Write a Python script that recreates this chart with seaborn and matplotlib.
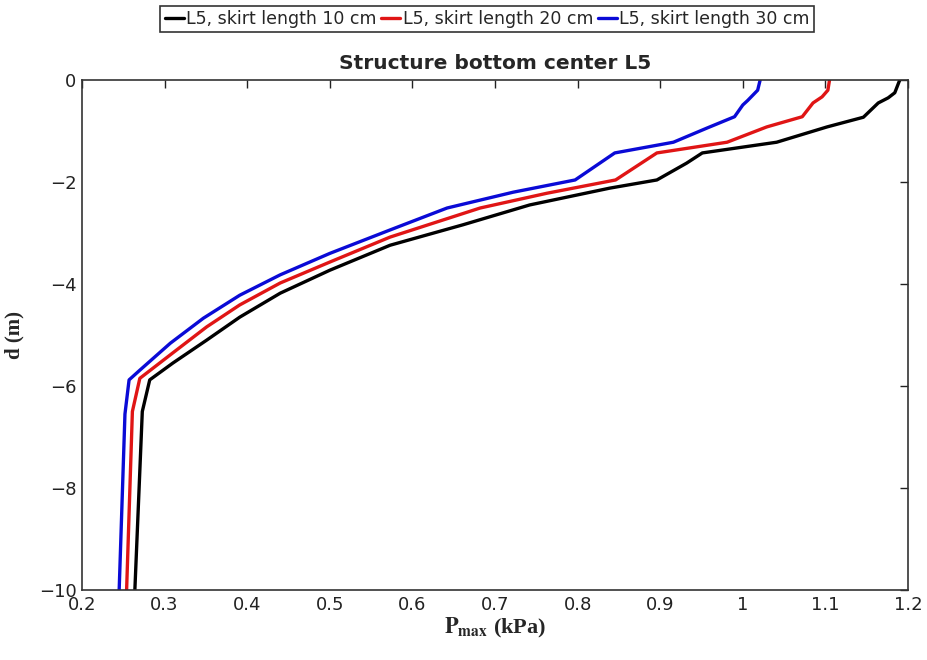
import matplotlib
matplotlib.use("Agg")
import matplotlib.pyplot as plt
import seaborn as sns
import pandas as pd

series_names = ["L5, skirt length 10 cm", "L5, skirt length 20 cm", "L5, skirt length 30 cm"]
colors = ["#000000", "#e01515", "#0a0ad6"]

d_10 = [0, -0.25, -0.35, -0.45, -0.73, -0.92, -1.22, -1.43, -1.63, -1.96, -2.12, -2.45,
        -2.84, -3.24, -3.73, -4.18, -4.65, -5.1, -5.55, -5.88, -6.5, -10]
p_10 = [1.19, 1.184, 1.176, 1.164, 1.146, 1.102, 1.041, 0.951, 0.932, 0.896, 0.839, 0.742,
        0.661, 0.573, 0.500, 0.440, 0.391, 0.351, 0.310, 0.282, 0.273, 0.264]

d_20 = [0, -0.2, -0.33, -0.45, -0.72, -0.92, -1.22, -1.43, -1.96, -2.22, -2.51, -3.08,
        -3.57, -3.98, -4.41, -4.84, -5.35, -5.85, -6.5, -10]
p_20 = [1.105, 1.103, 1.096, 1.085, 1.072, 1.029, 0.981, 0.896, 0.846, 0.763, 0.682, 0.573,
        0.500, 0.440, 0.391, 0.351, 0.310, 0.270, 0.261, 0.254]

d_30 = [0, -0.2, -0.4, -0.49, -0.72, -0.94, -1.22, -1.43, -1.96, -2.2, -2.51, -2.94,
        -3.4, -3.82, -4.22, -4.67, -5.16, -5.69, -5.88, -6.55, -10]
p_30 = [1.021, 1.018, 1.006, 1.0, 0.99, 0.957, 0.916, 0.845, 0.797, 0.722, 0.642, 0.573,
        0.500, 0.440, 0.391, 0.347, 0.307, 0.270, 0.257, 0.252, 0.245]

x_ticks = [0.2, 0.3, 0.4, 0.5, 0.6, 0.7, 0.8, 0.9, 1.0, 1.1, 1.2]
x_tick_labels = ["0.2", "0.3", "0.4", "0.5", "0.6", "0.7", "0.8", "0.9", "1", "1.1", "1.2"]
y_ticks = [0, -2, -4, -6, -8, -10]

frames = []
for name, d, p in zip(series_names, [d_10, d_20, d_30], [p_10, p_20, p_30]):
    frames.append(pd.DataFrame({"P": p, "d": d, "series": name}))
df = pd.concat(frames, ignore_index=True)

sns.set_theme(style="white")
plt.rcParams["font.family"] = ["DejaVu Sans"]
plt.rcParams["mathtext.fontset"] = "stix"

fig = plt.figure(figsize=(9.28, 6.6), dpi=100)
ax = fig.add_axes([82 / 928, 1 - 590 / 660, (908 - 82) / 928, (590 - 80) / 660])

sns.lineplot(data=df, x="P", y="d", hue="series", hue_order=series_names,
             palette=colors, sort=False, estimator=None, linewidth=2.4, ax=ax)

ax.set_xlim(0.2, 1.2)
ax.set_ylim(-10, 0)
ax.set_xticks(x_ticks)
ax.set_xticklabels(x_tick_labels)
ax.set_yticks(y_ticks)
ax.tick_params(direction="in", top=True, right=True, length=6, width=1,
               labelsize=13, colors="#222222", pad=4)
for s in ax.spines.values():
    s.set_color("#333333")
    s.set_linewidth(1.2)

ax.set_title("Structure bottom center L5", fontsize=14.5, fontweight="bold", pad=8)
ax.set_xlabel(r"$\mathbf{P}_{\mathbf{max}}$ (kPa)", fontsize=16, fontweight="bold",
              family="Liberation Serif", labelpad=2)
ax.set_ylabel("d (m)", fontsize=15, fontweight="bold", family="Liberation Serif", labelpad=10)

ax.get_legend().remove()
handles, labels = ax.get_legend_handles_labels()
leg = fig.legend(handles, labels, loc="center", bbox_to_anchor=(0.525, 0.971), ncol=3,
                 fontsize=12.5, frameon=True, fancybox=False, handlelength=1.1,
                 handletextpad=0.15, columnspacing=0.25, borderpad=0.25, borderaxespad=0)
leg.get_frame().set_edgecolor("black")
leg.get_frame().set_linewidth(1.2)

fig.savefig("out.png", dpi=100)
